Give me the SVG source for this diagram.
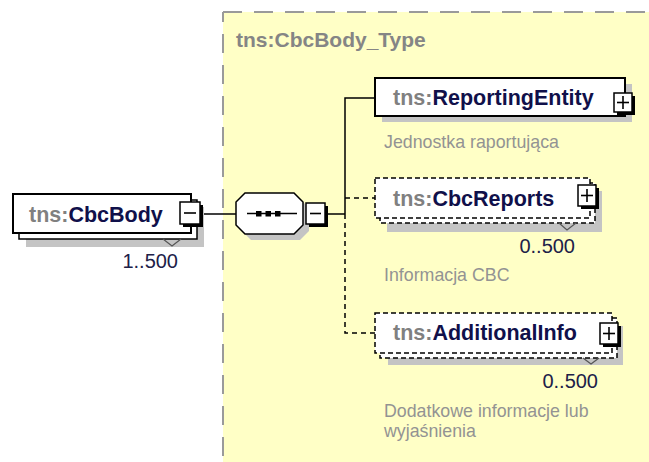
<svg xmlns="http://www.w3.org/2000/svg" width="649" height="462" viewBox="0 0 649 462">
<style>
.bg{fill:#ffffc6;stroke:none}
.bord{stroke:#9a9a9a;stroke-width:2;stroke-dasharray:19,12;fill:none}
.shadow{fill:#c4c4c4;stroke:none}
.box{fill:#fff;stroke:#000;stroke-width:2}
.back{fill:#fff;stroke:#000;stroke-width:1.5}
.dbox{fill:#fff;stroke:#000;stroke-width:1.5;stroke-dasharray:5,3}
.icon{fill:#fff;stroke:#000;stroke-width:1.5}
.ish{fill:#000}
.sym{stroke:#000;stroke-width:1.6;fill:none}
.notch{stroke:#555;stroke-width:1.2;fill:none}
.name{font-family:"Liberation Sans",Arial,sans-serif;font-size:21.5px;font-weight:bold;fill:#10104a}
.pre{fill:#808080}
.title{font-family:"Liberation Sans",Arial,sans-serif;font-size:21px;font-weight:bold;fill:#858585}
.occ{font-family:"Liberation Sans",Arial,sans-serif;font-size:20px;fill:#202048}
.desc{font-family:"Liberation Sans",Arial,sans-serif;font-size:17.8px;fill:#939393}
.conn{stroke:#000;stroke-width:1.5;fill:none}
.dconn{stroke:#000;stroke-width:1.5;fill:none;stroke-dasharray:5,4}
</style>

<g id="type-CbcBody_Type">
  <rect class="bg" x="223" y="12" width="430" height="455"/>
  <line class="bord" x1="223" y1="12" x2="649" y2="12"/>
  <line class="bord" x1="223" y1="12" x2="223" y2="462" stroke-dashoffset="9"/>
  <text class="title" x="236" y="47">tns:CbcBody_Type</text>
</g>

<g id="connectors">
  <line class="conn" x1="203" y1="214" x2="236" y2="214"/>
  <line class="conn" x1="328" y1="214" x2="345" y2="214"/>
  <polyline class="conn" points="345,214 345,98 375,98"/>
  <line class="dconn" x1="345" y1="198" x2="375" y2="198"/>
  <polyline class="dconn" points="345,214 345,333 375,333"/>
</g>

<g id="node-CbcBody">
  <rect class="shadow" x="26" y="207" width="178" height="40"/>
  <rect class="back" x="19" y="200" width="178" height="39"/>
  <rect class="box" x="13" y="194" width="178" height="39"/>
  <polyline class="notch" points="163,239 172,246 181,239"/>
  <text class="name" x="29" y="222"><tspan class="pre">tns:</tspan>CbcBody</text>
  <rect class="ish" x="183" y="205" width="20" height="22"/>
  <rect class="icon" x="180" y="202" width="20" height="22"/>
  <line class="sym" x1="184" y1="213" x2="196" y2="213"/>
  <text class="occ" x="178" y="268" text-anchor="end">1..500</text>
</g>

<g id="node-sequence">
  <polygon class="shadow" points="251,199 300,199 309,208 309,231 300,240 251,240 242,231 242,208"/>
  <polygon class="back" points="245,193 294,193 303,202 303,225 294,234 245,234 236,225 236,202"/>
  <line class="sym" x1="247" y1="213.5" x2="297" y2="213.5"/>
  <rect class="ish" x="256" y="211" width="5.5" height="5.5"/>
  <rect class="ish" x="265.5" y="211" width="5.5" height="5.5"/>
  <rect class="ish" x="275" y="211" width="5.5" height="5.5"/>
  <rect class="ish" x="309" y="206" width="19" height="21"/>
  <rect class="icon" x="306" y="203" width="19" height="21"/>
  <line class="sym" x1="310" y1="213.5" x2="321" y2="213.5"/>
</g>

<g id="node-ReportingEntity">
  <rect class="shadow" x="382" y="84" width="250" height="38"/>
  <rect class="box" x="375" y="78" width="250" height="38"/>
  <text class="name" x="393" y="105"><tspan class="pre">tns:</tspan>ReportingEntity</text>
  <rect class="ish" x="617" y="96" width="18" height="19"/>
  <rect class="icon" x="614" y="93" width="18" height="19"/>
  <line class="sym" x1="617" y1="102.5" x2="629" y2="102.5"/>
  <line class="sym" x1="623" y1="96" x2="623" y2="109"/>
  <text class="desc" x="384" y="148">Jednostka raportująca</text>
</g>

<g id="node-CbcReports">
  <rect class="shadow" x="387" y="191" width="215" height="41"/>
  <rect class="dbox" x="380" y="183" width="215" height="40"/>
  <rect class="dbox" x="375" y="178" width="215" height="40"/>
  <polyline class="notch" points="559,223 567,230 576,223"/>
  <text class="name" x="393" y="206"><tspan class="pre">tns:</tspan>CbcReports</text>
  <rect class="ish" x="581" y="188" width="18" height="21"/>
  <rect class="icon" x="578" y="185" width="18" height="21"/>
  <line class="sym" x1="581" y1="195.5" x2="593" y2="195.5"/>
  <line class="sym" x1="587" y1="189" x2="587" y2="202"/>
  <text class="occ" x="575" y="253" text-anchor="end">0..500</text>
  <text class="desc" x="384" y="281">Informacja CBC</text>
</g>

<g id="node-AdditionalInfo">
  <rect class="shadow" x="388" y="326" width="235" height="39"/>
  <rect class="dbox" x="380" y="318" width="237" height="40"/>
  <rect class="dbox" x="375" y="313" width="237" height="40"/>
  <polyline class="notch" points="583,358 591,364 599,358"/>
  <text class="name" x="393" y="340"><tspan class="pre">tns:</tspan>AdditionalInfo</text>
  <rect class="ish" x="603" y="326" width="18" height="21"/>
  <rect class="icon" x="600" y="323" width="18" height="21"/>
  <line class="sym" x1="603" y1="333.5" x2="615" y2="333.5"/>
  <line class="sym" x1="609" y1="327" x2="609" y2="340"/>
  <text class="occ" x="598" y="388" text-anchor="end">0..500</text>
  <text class="desc" x="384" y="417">Dodatkowe informacje lub</text>
  <text class="desc" x="384" y="437">wyjaśnienia</text>
</g>
</svg>
